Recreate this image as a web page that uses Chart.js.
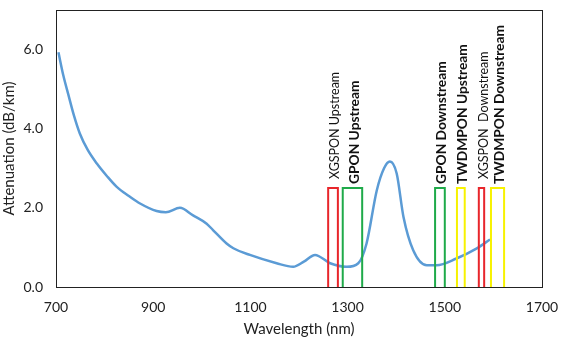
<!DOCTYPE html>
<html><head><meta charset="utf-8">
<script src="https://cdn.jsdelivr.net/npm/chart.js@4/dist/chart.umd.min.js"></script>
<style>html,body{margin:0;padding:0;background:#fff}#wrap{width:561px;height:338px}</style>
</head><body><div id="wrap"><canvas id="c" width="561" height="338"></canvas></div>
<script>
const wavelengths = [705,715,725,737,749,765,784,805,825,850,873,907,926,955,982,1010,1023,1051,1065,1099,1154,1188,1210,1233,1264,1298,1322,1339,1360,1375,1387,1401,1415,1435,1463,1483,1524,1565,1593];
const attenuation = [5.93,5.35,4.88,4.33,3.88,3.47,3.12,2.80,2.53,2.30,2.11,1.92,1.89,2.00,1.81,1.60,1.44,1.10,0.98,0.81,0.60,0.51,0.64,0.81,0.60,0.51,0.60,1.10,2.44,3.00,3.17,2.87,1.77,0.93,0.55,0.55,0.72,0.97,1.20];
const bandLabels = ["XGSPON Upstream","GPON Upstream","GPON Downstream","TWDMPON Upstream","XGSPON  Downstream","TWDMPON Downstream"];
const bandStart = [1260,1290,1480,1525,1570,1595];
const bandEnd = [1280,1330,1500,1541,1581,1622];
const bandHeight = [2.5,2.5,2.5,2.5,2.5,2.5];
const bandColors = ["#E8262B","#1FAA4A","#1FAA4A","#F7F200","#E8262B","#F7F200"];
const bandBold = [false,true,true,true,false,true];
const xTicks = [700,900,1100,1300,1500,1700];
const yTicks = [0,2,4,6];

const FONT = "Lato";
const datasets = [];
bandLabels.forEach((l,i)=>{
  datasets.push({
    label:l,
    data:[{x:bandStart[i],y:0},{x:bandStart[i],y:bandHeight[i]},{x:bandEnd[i],y:bandHeight[i]},{x:bandEnd[i],y:0}],
    borderColor:bandColors[i], borderWidth:2, pointRadius:0, tension:0, fill:false, order:1
  });
});
datasets.push({
  label:"Attenuation",
  data:wavelengths.map((w,i)=>({x:w,y:attenuation[i]})),
  borderColor:"#5B9BD5", borderWidth:2.5, pointRadius:0, cubicInterpolationMode:"monotone", fill:false, order:10
});

const frame = {
  id:"frame",
  afterDatasetsDraw(chart){
    const {ctx, chartArea:a, scales:{x,y}} = chart;
    ctx.save();
    ctx.strokeStyle="#222"; ctx.lineWidth=1;
    ctx.strokeRect(Math.round(a.left)+0.5, Math.round(a.top)+0.5, Math.round(a.right-a.left), Math.round(a.bottom-a.top));
    ctx.fillStyle="#111";
    bandLabels.forEach((l,i)=>{
      const px = x.getPixelForValue((bandStart[i]+bandEnd[i])/2) + 2;
      const py = y.getPixelForValue(bandHeight[i]) - (bandBold[i]?4:9);
      ctx.save();
      ctx.translate(px,py);
      ctx.rotate(-Math.PI/2);
      ctx.font = (bandBold[i]?"bold 13.8px ":"12.5px ") + FONT;
      ctx.textAlign="left"; ctx.textBaseline="middle";
      ctx.fillText(l,0,0);
      ctx.restore();
    });
    ctx.restore();
  }
};

new Chart(document.getElementById("c"),{
  type:"line",
  data:{datasets},
  options:{
    responsive:false, animation:false,
    layout:{padding:{left:0,right:19,top:10,bottom:0}},
    plugins:{legend:{display:false},tooltip:{enabled:false}},
    scales:{
      x:{type:"linear",min:700,max:1700,
        afterBuildTicks(s){s.ticks=xTicks.map(v=>({value:v}));},
        afterFit(s){s.height=51; s.paddingLeft=0; s.paddingRight=0;},
        grid:{display:false,drawTicks:false},
        border:{display:true,color:"#222"},
        ticks:{color:"#222",font:{family:FONT,size:14},padding:12,maxRotation:0,callback:v=>String(v)},
        title:{display:true,text:"Wavelength (nm)",color:"#222",font:{family:FONT,size:15},padding:{top:8,bottom:0}}
      },
      y:{min:0,max:7,
        afterBuildTicks(s){s.ticks=yTicks.map(v=>({value:v}));},
        afterFit(s){s.width=56; s.paddingTop=0; s.paddingBottom=0;},
        grid:{display:false,drawTicks:false},
        border:{display:true,color:"#222"},
        ticks:{color:"#222",font:{family:FONT,size:14},padding:13,callback:v=>v.toFixed(1)},
        title:{display:true,text:"Attenuation (dB/km)",color:"#222",font:{family:FONT,size:15},padding:{top:0,bottom:0}}
      }
    }
  },
  plugins:[frame]
});
</script></body></html>
